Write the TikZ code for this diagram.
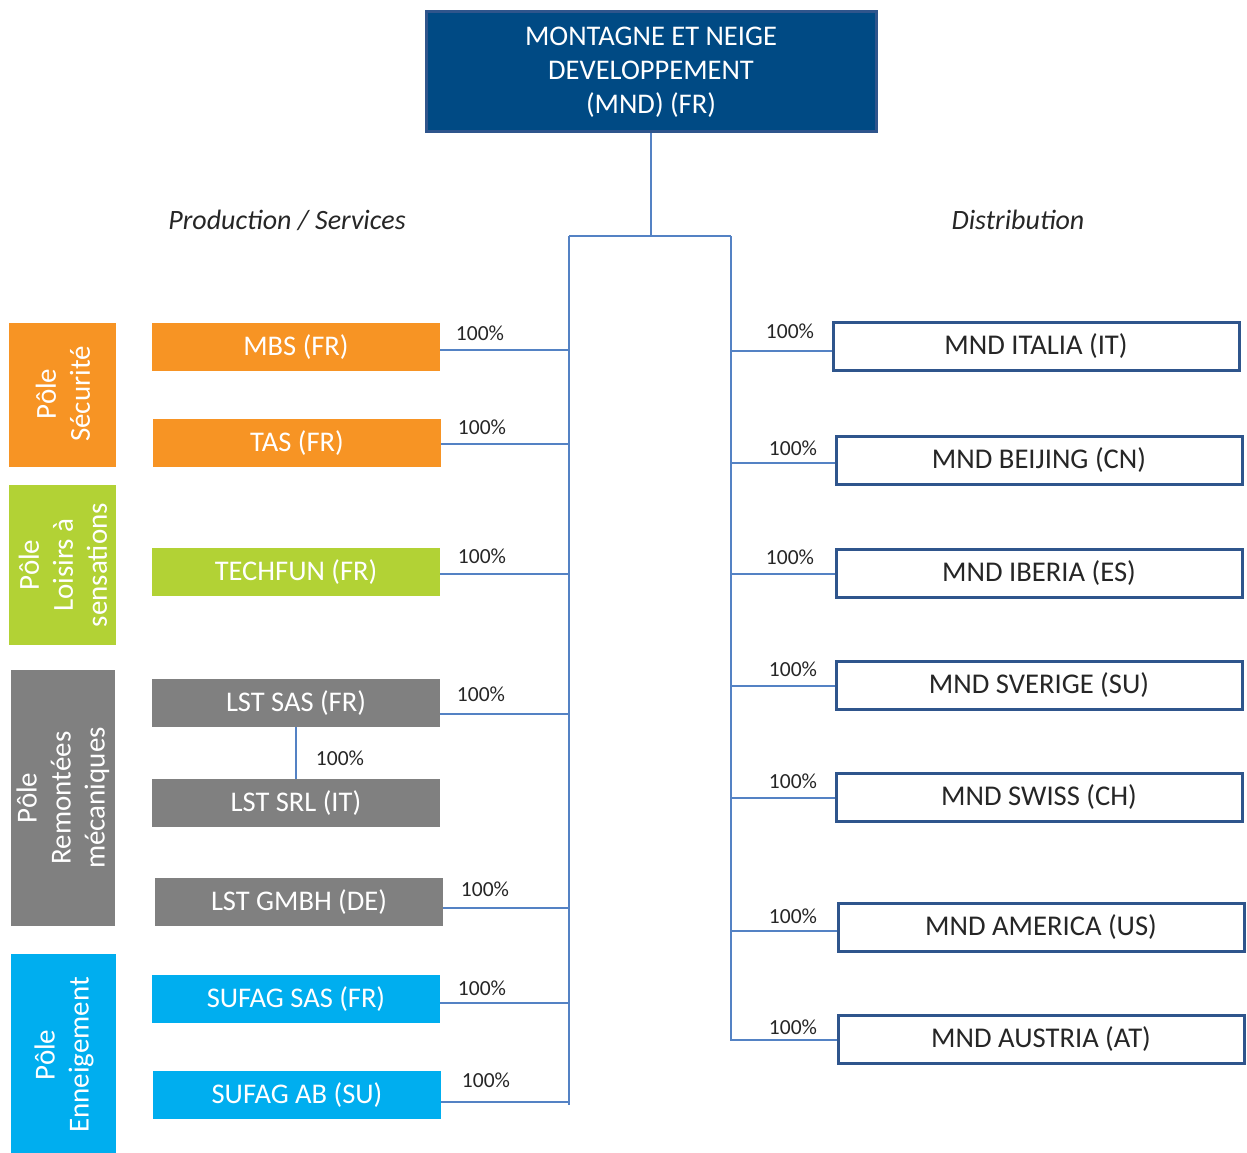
\documentclass[tikz,border=0pt]{standalone}
\usepackage{fontspec}
\setmainfont{Carlito}
\definecolor{mndblue}{RGB}{0,74,132}
\definecolor{mndedge}{RGB}{47,85,140}
\definecolor{lineblue}{RGB}{84,130,196}
\definecolor{orangeP}{RGB}{247,148,36}
\definecolor{greenP}{RGB}{178,210,53}
\definecolor{greyP}{RGB}{128,128,128}
\definecolor{cyanP}{RGB}{0,174,239}
\tikzset{
  conn/.style={draw=lineblue, line width=1.3pt},
  lbox/.style={minimum width=288pt, minimum height=48pt, inner sep=0pt, text=white,
    font=\fontsize{28.5}{32}\selectfont},
  rbox/.style={draw=mndedge, line width=3pt, fill=white, minimum width=406pt, minimum height=48pt,
    inner sep=0pt, text=black!85, font=\fontsize{28.6}{32}\selectfont},
  pole/.style={inner sep=0pt, text=white, align=center, rotate=90,
    font=\fontsize{29}{34}\selectfont},
  pct/.style={inner sep=0pt, text=black!85, font=\fontsize{21.5}{24}\selectfont},
  head/.style={inner sep=0pt, text=black!85, font=\fontsize{28}{32}\selectfont\itshape},
}
\begin{document}
\begin{tikzpicture}[x=1pt,y=-1pt]
\useasboundingbox (0,0) rectangle (1247,1153);
% top box
\node[draw=mndedge, line width=3pt, fill=mndblue, minimum width=450pt, minimum height=120pt,
  inner sep=0pt, text=white, align=center, font=\fontsize{28.5}{34}\selectfont] (top) at (651,72)
  {MONTAGNE ET NEIGE\\DEVELOPPEMENT\\(MND) (FR)};
% trunk coordinates
\coordinate (hub) at (651,236);
\coordinate (tl) at (569,236);
\coordinate (tr) at (731,236);
\coordinate (bl) at (569,1105);
\coordinate (br) at (731,1041);
\draw[conn] (top.south) -- (hub);
\draw[conn] (tl) -- (tr);
\draw[conn] (tl) -- (bl);
\draw[conn] (tr) -- (br);
% headings
\node[head] (hprod) at (287,220) {Production / Services};
\node[head] (hdist) at (1018,220) {Distribution};
% pole boxes
\fill[orangeP] (9,323) rectangle (116,467);
\fill[greenP] (9,485) rectangle (116,645);
\fill[greyP] (11,670) rectangle (115,926);
\fill[cyanP] (11,954) rectangle (116,1153);
\node[pole] (p1) at (63,394) {Pôle\\Sécurité};
\node[pole] (p2) at (63,565) {Pôle\\Loisirs à\\sensations};
\node[pole] (p3) at (63,798) {Pôle\\Remontées\\mécaniques};
\node[pole] (p4) at (64,1055) {Pôle\\Enneigement};
% left boxes
\node[lbox, fill=orangeP] (mbs) at (296,347) {MBS (FR)};
\node[lbox, fill=orangeP] (tas) at (297,443) {TAS (FR)};
\node[lbox, fill=greenP] (tech) at (296,572) {TECHFUN (FR)};
\node[lbox, fill=greyP] (lsas) at (296,703) {LST SAS (FR)};
\node[lbox, fill=greyP] (lsrl) at (296,803) {LST SRL (IT)};
\node[lbox, fill=greyP] (lgmbh) at (299,902) {LST GMBH (DE)};
\node[lbox, fill=cyanP] (ssas) at (296,999) {SUFAG SAS (FR)};
\node[lbox, fill=cyanP] (sab) at (297,1095) {SUFAG AB (SU)};
% left connectors
\draw[conn] ([yshift=-3pt]mbs.east) -- ([yshift=-3pt]mbs.east -| tl);
\draw[conn] ([yshift=-1pt]tas.east) -- ([yshift=-1pt]tas.east -| tl);
\draw[conn] ([yshift=-2pt]tech.east) -- ([yshift=-2pt]tech.east -| tl);
\draw[conn] ([yshift=-11pt]lsas.east) -- ([yshift=-11pt]lsas.east -| tl);
\draw[conn] ([yshift=-6pt]lgmbh.east) -- ([yshift=-6pt]lgmbh.east -| tl);
\draw[conn] ([yshift=-4pt]ssas.east) -- ([yshift=-4pt]ssas.east -| tl);
\draw[conn] ([yshift=-7pt]sab.east) -- ([yshift=-7pt]sab.east -| tl);
\draw[conn] (lsas.south) -- (lsrl.north);
% left labels
\node[pct] (l1) at (480,333) {100\%};
\node[pct] (l2) at (482,427) {100\%};
\node[pct] (l3) at (482,556) {100\%};
\node[pct] (l4) at (481,694) {100\%};
\node[pct] (l5) at (340,758) {100\%};
\node[pct] (l6) at (485,889) {100\%};
\node[pct] (l7) at (482,988) {100\%};
\node[pct] (l8) at (486,1080) {100\%};
% right boxes
\node[rbox] (it) at (1036,346) {MND ITALIA (IT)};
\node[rbox] (cn) at (1039,460) {MND BEIJING (CN)};
\node[rbox] (es) at (1039,573) {MND IBERIA (ES)};
\node[rbox] (su) at (1039,685) {MND SVERIGE (SU)};
\node[rbox] (ch) at (1039,797) {MND SWISS (CH)};
\node[rbox] (us) at (1041,927) {MND AMERICA (US)};
\node[rbox] (at) at (1041,1039) {MND AUSTRIA (AT)};
% right connectors
\draw[conn] ([yshift=-5pt]it.west) -- ([yshift=-5pt]it.west -| tr);
\draw[conn] ([yshift=-3pt]cn.west) -- ([yshift=-3pt]cn.west -| tr);
\draw[conn] ([yshift=-1pt]es.west) -- ([yshift=-1pt]es.west -| tr);
\draw[conn] ([yshift=-1pt]su.west) -- ([yshift=-1pt]su.west -| tr);
\draw[conn] ([yshift=-1pt]ch.west) -- ([yshift=-1pt]ch.west -| tr);
\draw[conn] ([yshift=-4pt]us.west) -- ([yshift=-4pt]us.west -| tr);
\draw[conn] ([yshift=-1pt]at.west) -- ([yshift=-1pt]at.west -| tr);
% right labels
\node[pct] (r1) at (790,331) {100\%};
\node[pct] (r2) at (793,448) {100\%};
\node[pct] (r3) at (790,557) {100\%};
\node[pct] (r4) at (793,669) {100\%};
\node[pct] (r5) at (793,781) {100\%};
\node[pct] (r6) at (793,916) {100\%};
\node[pct] (r7) at (793,1027) {100\%};
\end{tikzpicture}
\end{document}
